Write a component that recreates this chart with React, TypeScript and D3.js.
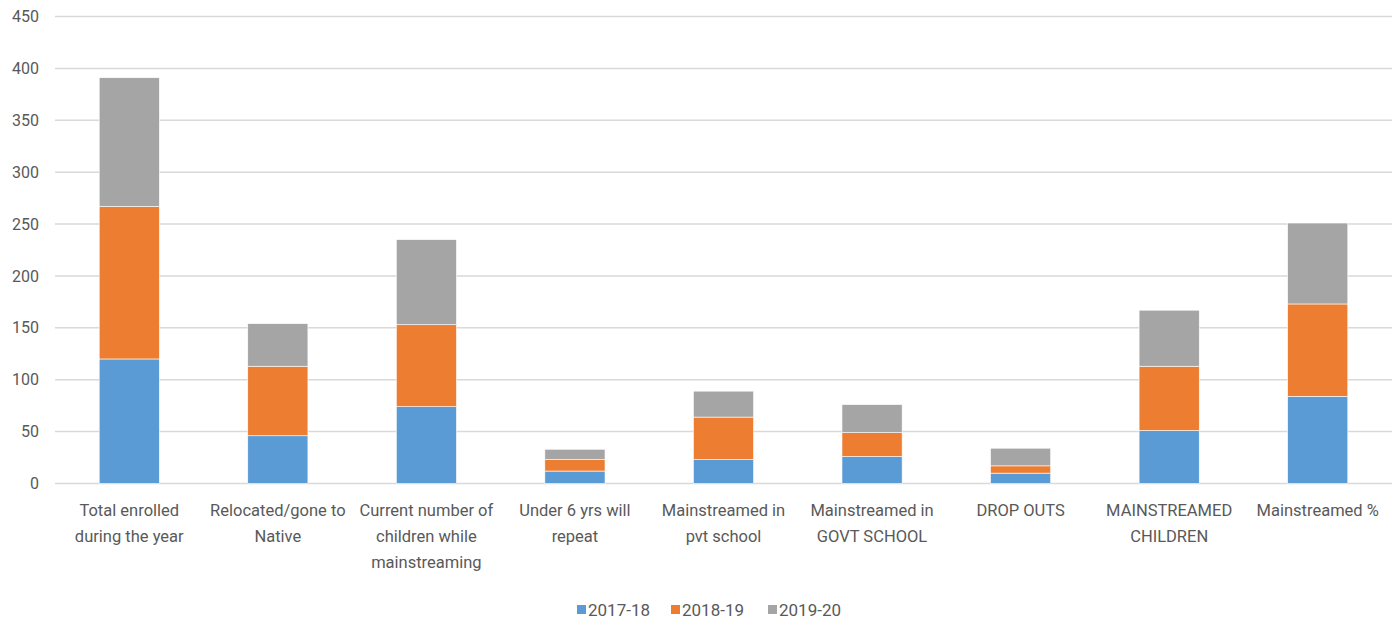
import * as d3 from 'd3'
import { useEffect } from 'react'

const categories = [
  ['Total enrolled', 'during the year'],
  ['Relocated/gone to', 'Native'],
  ['Current number of', 'children while', 'mainstreaming'],
  ['Under 6 yrs will', 'repeat'],
  ['Mainstreamed in', 'pvt school'],
  ['Mainstreamed in', 'GOVT SCHOOL'],
  ['DROP OUTS'],
  ['MAINSTREAMED', 'CHILDREN'],
  ['Mainstreamed %'],
]
const seriesNames = ['2017-18', '2018-19', '2019-20']
const values2017 = [120, 46, 74, 12, 23, 26, 10, 51, 84]
const values2018 = [147, 67, 79, 11, 41, 23, 7, 62, 89]
const values2019 = [124, 41, 82, 10, 25, 27, 17, 54, 78]
const yTicks = [0, 50, 100, 150, 200, 250, 300, 350, 400, 450]
const colors = ['#5b9bd5', '#ed7d31', '#a5a5a5']

const WIDTH = 1400
const HEIGHT = 622
const MARGIN = { TOP: 16.5, RIGHT: 8, BOTTOM: 138.5, LEFT: 55 }
const FONT = 'Roboto, "Liberation Sans", sans-serif'

const App = () => {
  useEffect(() => {
    document.body.style.margin = '0'
  }, [])

  const rows = categories.map((c, i) => ({
    key: String(i),
    '2017-18': values2017[i],
    '2018-19': values2018[i],
    '2019-20': values2019[i],
  }))

  const stacked = d3.stack<any>().keys(seriesNames)(rows)

  const x = d3.scaleBand()
    .domain(rows.map(d => d.key))
    .range([MARGIN.LEFT, WIDTH - MARGIN.RIGHT])

  const y = d3.scaleLinear()
    .domain([0, 450])
    .range([HEIGHT - MARGIN.BOTTOM, MARGIN.TOP])

  const barW = x.bandwidth() * 0.405

  const legendX = [577, 671, 768]

  return (
    <svg width={WIDTH} height={HEIGHT} style={{ display: 'block', fontFamily: FONT }}>
      <rect width={WIDTH} height={HEIGHT} fill="#fff" />
      {yTicks.map(t => (
        <g key={t}>
          <line x1={MARGIN.LEFT} x2={WIDTH - MARGIN.RIGHT} y1={y(t)} y2={y(t)}
            stroke="#d9d9d9" strokeWidth={1.5} />
          <text x={39} y={y(t)} dy="0.35em" textAnchor="end" fontSize={16} fill="#595959">{t}</text>
        </g>
      ))}
      {stacked.map((s, si) => (
        <g key={s.key} fill={colors[si]}>
          {s.map((d: any) => (
            <rect key={d.data.key}
              x={(x(d.data.key) as number) + (x.bandwidth() - barW) / 2}
              y={y(d[1])}
              width={barW}
              height={y(d[0]) - y(d[1])}
              stroke="#fff" strokeWidth={0.6} />
          ))}
        </g>
      ))}
      {categories.map((lines, i) => (
        <text key={i} textAnchor="middle" fontSize={16.5} fill="#595959">
          {lines.map((l, li) => (
            <tspan key={li} x={(x(String(i)) as number) + x.bandwidth() / 2} y={516 + li * 26}>{l}</tspan>
          ))}
        </text>
      ))}
      {seriesNames.map((n, i) => (
        <g key={n}>
          <rect x={legendX[i]} y={605} width={9} height={9} fill={colors[i]} />
          <text x={legendX[i] + 11} y={616} fontSize={17} fill="#595959">{n}</text>
        </g>
      ))}
    </svg>
  )
}

export default App
